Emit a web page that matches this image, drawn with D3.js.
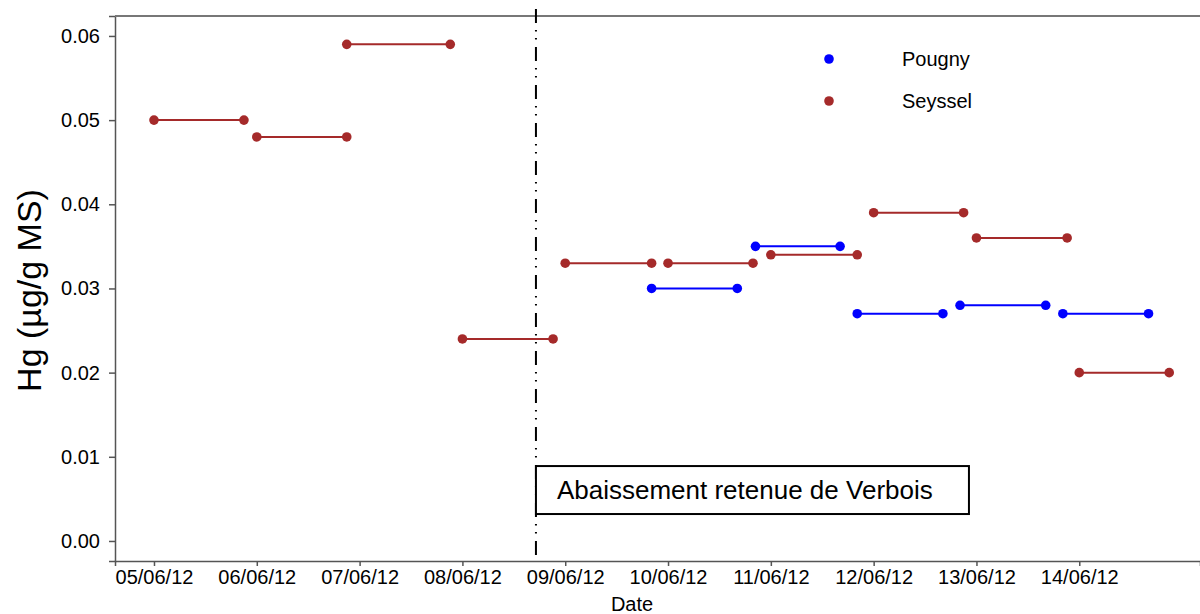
<!DOCTYPE html>
<html>
<head>
<meta charset="utf-8">
<script src="https://cdn.jsdelivr.net/npm/d3@7"></script>
<style>
  body { margin: 0; background: #fff; }
  text { font-family: "Liberation Sans", Arial, sans-serif; fill: #000; }
</style>
</head>
<body>
<script>
// sampling periods (start / end) and Hg values
const seysselStart = ['05/06/12 00:00', '06/06/12 00:00', '06/06/12 21:00', '08/06/12 00:00', '09/06/12 00:00',
  '10/06/12 00:00', '11/06/12 00:00', '12/06/12 00:00', '13/06/12 00:00', '14/06/12 00:00']
const seysselEnd = ['05/06/12 21:00', '06/06/12 21:00', '07/06/12 21:10', '08/06/12 21:10', '09/06/12 20:10',
  '10/06/12 19:50', '11/06/12 20:10', '12/06/12 21:00', '13/06/12 21:10', '14/06/12 21:00']
const seysselHg = [0.050, 0.048, 0.059, 0.024, 0.033, 0.033, 0.034, 0.039, 0.036, 0.020]

const pougnyStart = ['09/06/12 20:10', '10/06/12 20:25', '11/06/12 20:10', '12/06/12 20:10', '13/06/12 20:10']
const pougnyEnd = ['10/06/12 16:10', '11/06/12 16:10', '12/06/12 16:10', '13/06/12 16:10', '14/06/12 16:10']
const pougnyHg = [0.030, 0.035, 0.027, 0.028, 0.027]

const xTicks = ['05/06/12', '06/06/12', '07/06/12', '08/06/12', '09/06/12',
  '10/06/12', '11/06/12', '12/06/12', '13/06/12', '14/06/12']
const yTicks = [0, 0.01, 0.02, 0.03, 0.04, 0.05, 0.06]

const eventDate = '08/06/12 17:10'
const eventLabel = 'Abaissement retenue de Verbois'

const parseT = d3.utcParse('%d/%m/%y %H:%M')
const parseD = d3.utcParse('%d/%m/%y')

var w = 1200
var h = 614
var margin = { top: 16, right: 0, bottom: 53, left: 115 }

const xScale = d3.scaleUtc()
  .domain([parseT('04/06/12 14:54'), parseT('15/06/12 04:11')])
  .range([margin.left, w - margin.right])

const yScale = d3.scaleLinear()
  .domain([-0.00238, 0.06237])
  .range([h - margin.bottom, margin.top])

const svg = d3.select('body')
  .append('svg')
  .attr('width', w)
  .attr('height', h)

// axes
const xAxis = d3.axisBottom(xScale)
  .tickValues(xTicks.map(parseD))
  .tickFormat(d3.utcFormat('%d/%m/%y'))
  .tickSizeOuter(0)
  .tickSize(5)
  .tickPadding(4)

const gx = svg.append('g')
  .attr('transform', 'translate(0,' + (h - margin.bottom) + ')')
  .call(xAxis)
gx.selectAll('text').style('font-size', '20px')

const yAxis = d3.axisLeft(yScale)
  .tickValues(yTicks)
  .tickFormat(d3.format('.2f'))
  .tickSizeOuter(0)
  .tickSize(6)
  .tickPadding(9)

const gy = svg.append('g')
  .attr('transform', 'translate(' + margin.left + ',0)')
  .call(yAxis)
gy.selectAll('text').style('font-size', '20px')

svg.selectAll('.domain, .tick line')
  .attr('stroke', '#555')
  .attr('stroke-width', 1.5)

// top frame line
svg.append('line')
  .attr('x1', margin.left).attr('x2', w)
  .attr('y1', margin.top).attr('y2', margin.top)
  .attr('stroke', '#777')
  .attr('stroke-width', 2)

// event line + annotation
const ex = xScale(parseT(eventDate))
svg.append('line')
  .attr('x1', ex).attr('x2', ex)
  .attr('y1', margin.top - 7)
  .attr('y2', h - margin.bottom - 4)
  .attr('stroke', '#000')
  .attr('stroke-width', 2)
  .attr('stroke-dasharray', '14 7 1.5 6.5 1.5 7.5')

const boxTop = yScale(0.0089)
const boxBottom = yScale(0.0032)
svg.append('rect')
  .attr('x', ex)
  .attr('y', boxTop)
  .attr('width', 433)
  .attr('height', boxBottom - boxTop)
  .attr('fill', '#fff')
  .attr('stroke', '#000')
  .attr('stroke-width', 2)

svg.append('text')
  .attr('x', ex + 21)
  .attr('y', (boxTop + boxBottom) / 2 + 9)
  .style('font-size', '26px')
  .text(eventLabel)

// series
const series = [
  { name: 'Pougny', color: '#0000ff', start: pougnyStart, end: pougnyEnd, hg: pougnyHg },
  { name: 'Seyssel', color: '#a52a2a', start: seysselStart, end: seysselEnd, hg: seysselHg }
]

series.forEach(s => {
  const segs = s.hg.map((v, i) => [parseT(s.start[i]), parseT(s.end[i]), v])
  const g = svg.append('g')
  g.selectAll('line')
    .data(segs)
    .enter()
    .append('line')
    .attr('x1', d => xScale(d[0]))
    .attr('x2', d => xScale(d[1]))
    .attr('y1', d => yScale(d[2]))
    .attr('y2', d => yScale(d[2]))
    .attr('stroke', s.color)
    .attr('stroke-width', 2)
  g.selectAll('circle.a')
    .data(segs)
    .enter()
    .append('circle')
    .attr('cx', d => xScale(d[0]))
    .attr('cy', d => yScale(d[2]))
    .attr('r', 4.8)
    .attr('fill', s.color)
  g.selectAll('circle.b')
    .data(segs)
    .enter()
    .append('circle')
    .attr('cx', d => xScale(d[1]))
    .attr('cy', d => yScale(d[2]))
    .attr('r', 4.8)
    .attr('fill', s.color)
})

// legend
const legend = svg.append('g')
series.forEach((s, i) => {
  legend.append('circle')
    .attr('cx', 829)
    .attr('cy', 59 + i * 42)
    .attr('r', 4.8)
    .attr('fill', s.color)
  legend.append('text')
    .attr('x', 902)
    .attr('y', 66 + i * 42)
    .style('font-size', '20px')
    .text(s.name)
})

// axis titles
svg.append('text')
  .attr('x', 632)
  .attr('y', 611)
  .attr('text-anchor', 'middle')
  .style('font-size', '20px')
  .text('Date')

svg.append('text')
  .attr('transform', 'rotate(-90)')
  .attr('x', -(margin.top + (h - margin.bottom)) / 2 - 2)
  .attr('y', 41)
  .attr('text-anchor', 'middle')
  .style('font-size', '34px')
  .text('Hg (µg/g MS)')
</script>
</body>
</html>
